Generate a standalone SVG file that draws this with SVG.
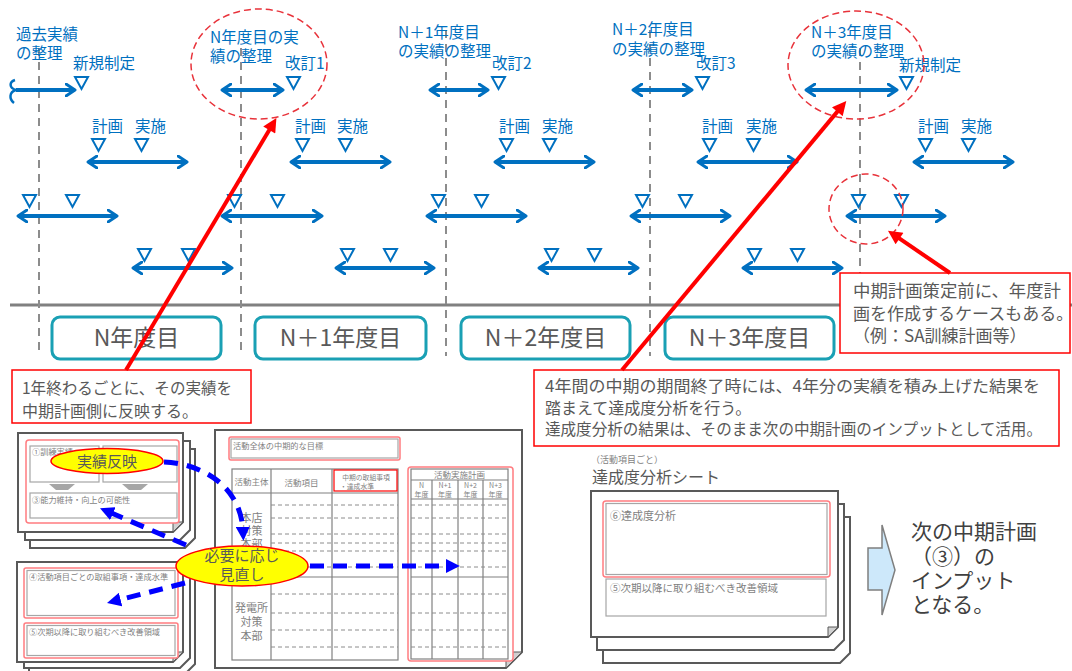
<svg xmlns="http://www.w3.org/2000/svg" width="1072" height="671" viewBox="0 0 1072 671">
<defs>
<style>
text{font-family:"Noto Sans CJK JP","Noto Sans",sans-serif}
.bl{fill:#0070C0;font-size:15.5px}
.vd{stroke:#8c8c8c;stroke-width:2;stroke-dasharray:8 6;fill:none}
.ar{stroke:#0070C0;stroke-width:4;fill:none;marker-end:url(#ah)}
.da{stroke:#0070C0;stroke-width:4;fill:none;marker-end:url(#ah);marker-start:url(#ah)}
.tri{fill:#fff;stroke:#0070C0;stroke-width:2}
.yr{fill:#fff;stroke:#1AA0B4;stroke-width:3}
.yt{fill:#595959;font-size:23px;text-anchor:middle}
.rc{fill:#fff;stroke:#FF0000;stroke-width:1.5}
.ct{fill:#595959;font-size:16px}
.re{fill:none;stroke:#E8323A;stroke-width:1.5;stroke-dasharray:7 4}
.rl{stroke:#FF0000;stroke-width:4;fill:none;marker-end:url(#rh)}
.pg{fill:#fff;stroke:#595959;stroke-width:2}
.fd{fill:#d0d0d0;stroke:#595959;stroke-width:1}
.pk{fill:#fff;stroke:#FF7C80;stroke-width:1.5}
.gb{fill:#fff;stroke:#A6A6A6;stroke-width:1.2}
.sm{fill:#7F7F7F;font-size:8.2px}
.tb{fill:none;stroke:#808080;stroke-width:1.2}
.td{fill:none;stroke:#8c8c8c;stroke-width:1;stroke-dasharray:4 3}
.bd{stroke:#0000FF;stroke-width:5;stroke-dasharray:14 9;fill:none;marker-end:url(#bh)}
.ye{fill:#FFFF00;stroke:#FF0000;stroke-width:1.5}
.yet{fill:#595959;font-size:15px;text-anchor:middle}
</style>
<marker id="ah" viewBox="0 0 12 14" refX="10" refY="7" markerWidth="12" markerHeight="14" markerUnits="userSpaceOnUse" orient="auto-start-reverse"><path d="M1,1 L10,7 L1,13" fill="none" stroke="#0070C0" stroke-width="3" stroke-linecap="round" stroke-linejoin="round"/></marker>
<marker id="rh" viewBox="0 0 10 10" refX="4" refY="5" markerWidth="16" markerHeight="14" markerUnits="userSpaceOnUse" orient="auto"><path d="M0,0 L10,5 L0,10 Z" fill="#FF0000"/></marker>
<marker id="bh" viewBox="0 0 10 10" refX="3" refY="5" markerWidth="14" markerHeight="14" markerUnits="userSpaceOnUse" orient="auto"><path d="M0,0 L10,5 L0,10 Z" fill="#0000FF"/></marker>
<path id="tri" d="M0,0 H13 L6.5,12 Z" class="tri"/>
</defs>
<rect width="1072" height="671" fill="#fff"/>

<g id="grid">
<line x1="10" y1="305" x2="1072" y2="305" stroke="#808080" stroke-width="3"/>
<line class="vd" x1="39" y1="48" x2="39" y2="356"/>
<line class="vd" x1="241" y1="48" x2="241" y2="356"/>
<line class="vd" x1="446" y1="30" x2="446" y2="356"/>
<line class="vd" x1="650" y1="30" x2="650" y2="356"/>
<line class="vd" x1="860" y1="48" x2="860" y2="356"/>
</g>

<g id="col-prev">
<text class="bl" x="16" y="40">過去実績</text>
<text class="bl" x="16" y="59">の整理</text>
<text class="bl" x="73" y="69">新規制定</text>
<path d="M15,80 C9,82 9,88 16,90 C9,92 9,99 14,103" fill="none" stroke="#0070C0" stroke-width="2.5"/>
<line class="ar" x1="16" y1="90" x2="75" y2="90"/>
<use href="#tri" x="75" y="77"/>
<text class="bl" x="92" y="132">計画</text>
<text class="bl" x="135" y="132">実施</text>
<line class="da" x1="88" y1="162" x2="187" y2="162"/>
<use href="#tri" x="92" y="139"/><use href="#tri" x="135" y="139"/>
<line class="da" x1="18" y1="216" x2="117" y2="216"/>
<use href="#tri" x="23" y="195"/><use href="#tri" x="66" y="195"/>
<line class="da" x1="133" y1="268" x2="232" y2="268"/>
<use href="#tri" x="138" y="249"/><use href="#tri" x="182" y="249"/>
</g>

<g id="col-n">
<text class="bl" x="210" y="43">N年度目の実</text>
<text class="bl" x="210" y="62">績の整理</text>
<text class="bl" x="285" y="69">改訂1</text>
<line class="da" x1="222" y1="90" x2="283" y2="90"/>
<use href="#tri" x="287" y="77"/>
<text class="bl" x="295" y="132">計画</text>
<text class="bl" x="337" y="132">実施</text>
<line class="da" x1="291" y1="162" x2="390" y2="162"/>
<use href="#tri" x="296" y="139"/><use href="#tri" x="339" y="139"/>
<line class="da" x1="222" y1="216" x2="322" y2="216"/>
<use href="#tri" x="228" y="195"/><use href="#tri" x="271" y="195"/>
<line class="da" x1="336" y1="268" x2="434" y2="268"/>
<use href="#tri" x="341" y="249"/><use href="#tri" x="384" y="249"/>
<ellipse class="re" cx="259" cy="64" rx="68" ry="55"/>
</g>

<g id="col-n1">
<text class="bl" x="398" y="38">N＋1年度目</text>
<text class="bl" x="398" y="57">の実績の整理</text>
<text class="bl" x="492" y="69">改訂2</text>
<line class="da" x1="430" y1="90" x2="488" y2="90"/>
<use href="#tri" x="492" y="77"/>
<text class="bl" x="499" y="132">計画</text>
<text class="bl" x="542" y="132">実施</text>
<line class="da" x1="495" y1="162" x2="594" y2="162"/>
<use href="#tri" x="500" y="139"/><use href="#tri" x="543" y="139"/>
<line class="da" x1="427" y1="216" x2="526" y2="216"/>
<use href="#tri" x="432" y="195"/><use href="#tri" x="475" y="195"/>
<line class="da" x1="539" y1="268" x2="638" y2="268"/>
<use href="#tri" x="545" y="249"/><use href="#tri" x="588" y="249"/>
</g>

<g id="col-n2">
<text class="bl" x="612" y="35">N＋2年度目</text>
<text class="bl" x="612" y="55">の実績の整理</text>
<text class="bl" x="696" y="69">改訂3</text>
<line class="da" x1="633" y1="90" x2="692" y2="90"/>
<use href="#tri" x="696" y="77"/>
<text class="bl" x="702" y="132">計画</text>
<text class="bl" x="746" y="132">実施</text>
<line class="da" x1="698" y1="162" x2="797" y2="162"/>
<use href="#tri" x="703" y="139"/><use href="#tri" x="747" y="139"/>
<line class="da" x1="631" y1="216" x2="730" y2="216"/>
<use href="#tri" x="636" y="195"/><use href="#tri" x="679" y="195"/>
<line class="da" x1="743" y1="268" x2="842" y2="268"/>
<use href="#tri" x="748" y="249"/><use href="#tri" x="791" y="249"/>
</g>

<g id="col-n3">
<text class="bl" x="811" y="38">N＋3年度目</text>
<text class="bl" x="811" y="57">の実績の整理</text>
<text class="bl" x="899" y="71">新規制定</text>
<line class="da" x1="806" y1="90" x2="897" y2="90"/>
<use href="#tri" x="900" y="77"/>
<text class="bl" x="918" y="132">計画</text>
<text class="bl" x="961" y="132">実施</text>
<line class="da" x1="914" y1="162" x2="1013" y2="162"/>
<use href="#tri" x="919" y="139"/><use href="#tri" x="962" y="139"/>
<line class="da" x1="847" y1="216" x2="945" y2="216"/>
<use href="#tri" x="852" y="195"/><use href="#tri" x="895" y="195"/>
<ellipse class="re" cx="856" cy="65" rx="68" ry="54"/>
<ellipse class="re" cx="866" cy="209" rx="37" ry="35"/>
</g>

<g id="years">
<rect class="yr" x="52" y="317" width="169" height="42" rx="8"/>
<text class="yt" x="136.5" y="346">N年度目</text>
<rect class="yr" x="255" y="317" width="171" height="42" rx="8"/>
<text class="yt" x="340.5" y="346">N＋1年度目</text>
<rect class="yr" x="461" y="317" width="169" height="42" rx="8"/>
<text class="yt" x="545.5" y="346">N＋2年度目</text>
<rect class="yr" x="665" y="317" width="169" height="42" rx="8"/>
<text class="yt" x="749.5" y="346">N＋3年度目</text>
</g>

<g id="note-a">
<rect class="rc" x="12" y="370" width="239" height="53"/>
<text class="ct" x="22" y="394" textLength="210" lengthAdjust="spacingAndGlyphs">1年終わるごとに、その実績を</text>
<text class="ct" x="22" y="417">中期計画側に反映する。</text>
</g>

<g id="note-b">
<rect class="rc" x="534" y="370" width="525" height="76"/>
<text class="ct" x="545" y="392" textLength="495" lengthAdjust="spacingAndGlyphs">4年間の中期の期間終了時には、4年分の実績を積み上げた結果を</text>
<text class="ct" x="545" y="414">踏まえて達成度分析を行う。</text>
<text class="ct" x="545" y="435" textLength="497" lengthAdjust="spacingAndGlyphs">達成度分析の結果は、そのまま次の中期計画のインプットとして活用。</text>
</g>

<g id="note-c">
<rect class="rc" x="840" y="273" width="230" height="80"/>
<text class="ct" style="font-size:17px" x="853" y="297" textLength="208" lengthAdjust="spacingAndGlyphs">中期計画策定前に、年度計</text>
<text class="ct" style="font-size:17px" x="853" y="320">画を作成するケースもある。</text>
<text class="ct" style="font-size:17px" x="853" y="342">（例：SA訓練計画等）</text>
</g>

<g id="doc-results">
<path class="pg" d="M30,449 H195 V538 L185,548 H30 Z"/>
<path class="pg" d="M25,441 H190 V530 L180,540 H25 Z"/>
<path class="pg" d="M18,433 H183 V522 L173,532 H18 Z"/>
<path class="fd" d="M183,522 L173,532 L173,522 Z"/>
<rect class="pk" x="26" y="440" width="153" height="83" rx="3"/>
<rect class="gb" x="30" y="446" width="69" height="36"/>
<rect class="gb" x="103" y="446" width="74" height="36"/>
<text class="sm" x="32" y="455">①訓練実績</text>
<polygon points="49,484 75,484 68,490 56,490" fill="#A6A6A6"/>
<polygon points="122,484 148,484 141,490 129,490" fill="#A6A6A6"/>
<rect class="gb" x="30" y="493" width="147" height="25"/>
<text class="sm" x="32" y="503">③能力維持・向上の可能性</text>
</g>

<g id="doc-items">
<path class="pg" d="M29,574 H195 V664 L185,674 H29 Z"/>
<path class="pg" d="M24,568 H190 V658 L180,668 H24 Z"/>
<path class="pg" d="M17,562 H183 V652 L173,662 H17 Z"/>
<path class="fd" d="M183,652 L173,662 L173,652 Z"/>
<rect class="pk" x="24" y="568" width="154" height="50" rx="2"/>
<rect class="gb" x="27" y="570.5" width="148" height="45"/>
<text class="sm" x="29" y="580">④活動項目ごとの取組事項・達成水準</text>
<rect class="pk" x="24" y="623" width="154" height="35" rx="2"/>
<rect class="gb" x="27" y="625.5" width="148" height="30"/>
<text class="sm" x="29" y="635">⑤次期以降に取り組むべき改善領域</text>
</g>

<g id="doc-plan">
<path class="pg" d="M215,430 H522 V652 L506,668 H215 Z"/>
<path class="fd" d="M522,652 L506,668 L506,652 Z"/>
<rect class="pk" x="229" y="437" width="171" height="23" rx="2"/>
<rect class="gb" x="231" y="439" width="167" height="19"/>
<text class="sm" x="233" y="449">活動全体の中期的な目標</text>
<rect class="tb" x="232" y="469" width="166" height="191"/>
<line class="tb" x1="271" y1="469" x2="271" y2="660"/>
<line class="tb" x1="332" y1="469" x2="332" y2="660"/>
<line class="tb" x1="232" y1="493" x2="398" y2="493"/>
<line class="tb" x1="232" y1="577" x2="398" y2="577"/>
<path class="td" d="M271,505 H398 M271,518 H398 M271,534 H398 M271,543 H398 M271,551 H398 M271,567 H398 M271,594 H398 M271,613 H398 M271,630 H398 M271,647 H398"/>
<text class="sm" x="251.5" y="485" text-anchor="middle" style="font-size:8.5px">活動主体</text>
<text class="sm" x="301.5" y="486" text-anchor="middle" style="font-size:8.5px">活動項目</text>
<rect class="rc" x="334" y="470" width="63" height="21" style="stroke-width:1.2"/>
<text class="sm" x="366" y="479.5" text-anchor="middle" style="font-size:6.8px">中期の取組事項</text>
<text class="sm" x="340" y="488.5" style="font-size:6.8px">・達成水準</text>
<text class="sm" x="251.5" y="522" text-anchor="middle" style="font-size:11px">本店</text>
<text class="sm" x="251.5" y="535" text-anchor="middle" style="font-size:11px">対策</text>
<text class="sm" x="251.5" y="548" text-anchor="middle" style="font-size:11px">本部</text>
<text class="sm" x="251.5" y="612" text-anchor="middle" style="font-size:11px">発電所</text>
<text class="sm" x="251.5" y="626" text-anchor="middle" style="font-size:11px">対策</text>
<text class="sm" x="251.5" y="640" text-anchor="middle" style="font-size:11px">本部</text>
<rect class="pk" x="408" y="467" width="105" height="194" rx="3"/>
<rect class="tb" x="411" y="469" width="97" height="190"/>
<line class="tb" x1="411" y1="480" x2="508" y2="480"/>
<line class="tb" x1="411" y1="499" x2="508" y2="499"/>
<line class="tb" x1="411" y1="577" x2="508" y2="577"/>
<line class="tb" x1="432" y1="480" x2="432" y2="659"/>
<line class="tb" x1="458" y1="480" x2="458" y2="659"/>
<line class="tb" x1="483" y1="480" x2="483" y2="659"/>
<path class="td" d="M411,505 H508 M411,518 H508 M411,534 H508 M411,543 H508 M411,551 H508 M411,567 H508 M411,594 H508 M411,613 H508 M411,630 H508 M411,647 H508"/>
<text class="sm" x="459.5" y="478" text-anchor="middle" style="font-size:8.5px">活動実施計画</text>
<g class="sm" text-anchor="middle" style="font-size:7px">
<text x="421.5" y="488">N</text><text x="421.5" y="497">年度</text>
<text x="445" y="488">N+1</text><text x="445" y="497">年度</text>
<text x="470.5" y="488">N+2</text><text x="470.5" y="497">年度</text>
<text x="495.5" y="488">N+3</text><text x="495.5" y="497">年度</text>
</g>
</g>

<g id="doc-analysis">
<text class="sm" x="591" y="463" style="font-size:9px">（活動項目ごと）</text>
<text x="592" y="483" fill="#595959" style="font-size:16px">達成度分析シート</text>
<path class="pg" d="M603,517 H850 V653 L840,663 H603 Z"/>
<path class="pg" d="M597,504 H844 V640 L834,650 H597 Z"/>
<path class="pg" d="M591,491 H838 V627 L828,637 H591 Z"/>
<path class="fd" d="M838,627 L828,637 L828,627 Z"/>
<rect class="pk" x="603" y="501" width="227" height="76" rx="3"/>
<rect class="gb" x="606" y="503.5" width="221" height="71"/>
<text class="sm" x="610" y="520" style="font-size:11px">⑥達成度分析</text>
<rect class="gb" x="606" y="579" width="220" height="37"/>
<text class="sm" x="610" y="592" style="font-size:10.5px">⑤次期以降に取り組むべき改善領域</text>
</g>

<g id="next-input">
<polygon points="868,548 882,548 882,525 895,570 882,615 882,590 868,590" fill="#CDE8FA" stroke="#7F7F7F" stroke-width="1.5"/>
<g fill="#404040" style="font-size:21px">
<text x="911" y="539">次の中期計画</text>
<text x="911" y="564">（③）の</text>
<text x="911" y="588">インプット</text>
<text x="911" y="612">となる。</text>
</g>
</g>

<g id="connectors">
<line class="rl" x1="126" y1="370" x2="272.1" y2="125.2"/>
<line class="rl" x1="622" y1="370" x2="840.9" y2="107.4"/>
<line class="rl" x1="950" y1="273" x2="894.9" y2="235.4"/>
<path class="bd" d="M164,462 C205,464 241,488 243,531"/>
<line class="bd" x1="186" y1="545" x2="109" y2="512"/>
<line class="bd" x1="185" y1="583" x2="116.5" y2="600.6"/>
<line class="bd" x1="310" y1="566" x2="450" y2="566"/>
</g>

<g id="label-reflect">
<ellipse class="ye" cx="107" cy="461" rx="56" ry="12.5"/>
<text class="yet" x="107" y="466.5">実績反映</text>
</g>

<g id="label-review">
<ellipse class="ye" cx="242" cy="566" rx="66" ry="20"/>
<text class="yet" x="242" y="561">必要に応じ</text>
<text class="yet" x="242" y="580">見直し</text>
</g>
</svg>
